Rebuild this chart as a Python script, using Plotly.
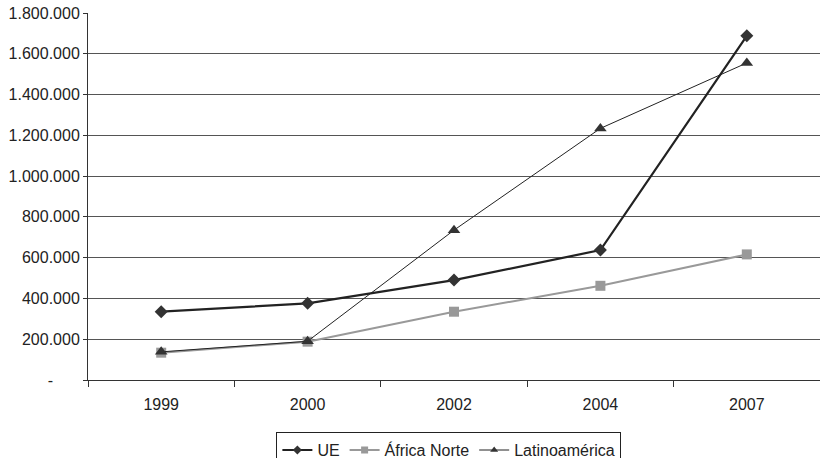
import plotly.graph_objects as go

years = ["1999", "2000", "2002", "2004", "2007"]
ue = [335000, 376000, 490000, 637000, 1688000]
africa_norte = [134000, 188000, 335000, 462000, 616000]
latinoamerica = [138000, 190000, 735000, 1234000, 1555000]

y_tickvals = [0, 200000, 400000, 600000, 800000, 1000000, 1200000, 1400000, 1600000, 1800000]
y_ticktext = ["-" + "\u00a0" * 6, "200.000", "400.000", "600.000", "800.000", "1.000.000",
              "1.200.000", "1.400.000", "1.600.000", "1.800.000"]

series = [
    ("UE", ue, dict(color="#222222", width=2.2), "diamond", "#333333", 10),
    ("África Norte", africa_norte, dict(color="#999999", width=2), "square", "#999999", 10),
    ("Latinoamérica", latinoamerica, dict(color="#222222", width=1), "triangle-up", "#333333", 11),
]

fig = go.Figure()
for name, vals, line, sym, mcol, msize in series:
    fig.add_trace(go.Scatter(
        x=years, y=vals, name=name, mode="lines+markers", showlegend=False,
        line=line, marker=dict(symbol=sym, size=msize, color=mcol),
    ))
for name, vals, line, sym, mcol, msize in series:
    fig.add_trace(go.Scatter(
        x=[None], y=[None], name=name, mode="lines+markers", showlegend=True,
        line=line, marker=dict(symbol=sym, size=7, color=mcol),
    ))

fig.update_layout(
    width=820, height=458,
    margin=dict(l=88, r=0, t=13, b=78, autoexpand=False),
    paper_bgcolor="white", plot_bgcolor="white",
    font=dict(family="Liberation Sans, Arial, sans-serif", size=16, color="#222222"),
    showlegend=True,
    legend=dict(
        orientation="h", x=0.493, xanchor="center", y=-0.142, yanchor="top",
        bordercolor="#222222", borderwidth=1, font=dict(size=16),
        itemwidth=30, tracegroupgap=0,
    ),
    xaxis=dict(
        type="category", showgrid=False, showline=True, linecolor="#333333",
        linewidth=1, ticks="outside", tickson="boundaries", ticklen=6,
        tickcolor="#333333", range=[-0.5, 4.5], ticklabelstandoff=10,
    ),
    yaxis=dict(
        range=[0, 1800000], tickvals=y_tickvals, ticktext=y_ticktext,
        showgrid=True, gridcolor="#555555", gridwidth=1,
        showline=True, linecolor="#333333", linewidth=1,
        ticks="outside", ticklen=4, tickcolor="#333333", zeroline=False,
    ),
)

fig.write_html("out.html")
